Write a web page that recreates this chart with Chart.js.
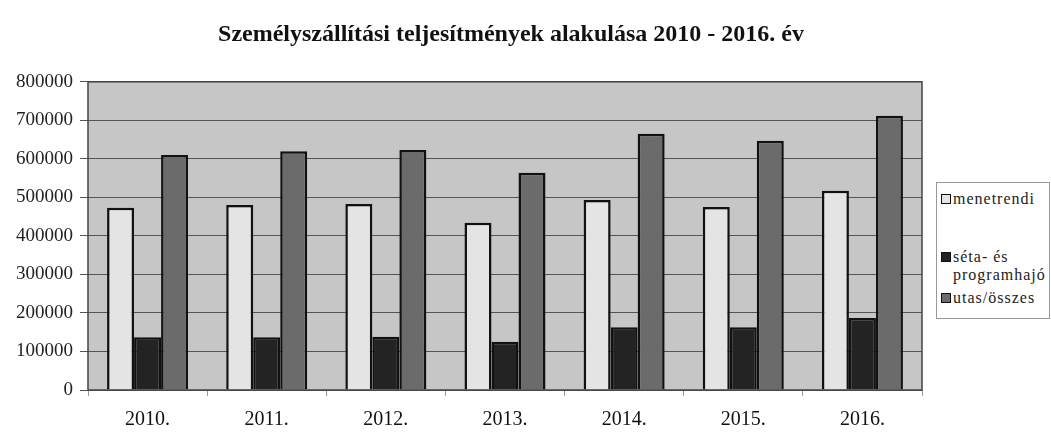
<!DOCTYPE html>
<html>
<head>
<meta charset="utf-8">
<script src="https://cdn.jsdelivr.net/npm/chart.js@4/dist/chart.umd.min.js"></script>
<style>
    body { margin: 0; background: #fff; }
    #wrap { position: relative; width: 1051px; height: 434px; }
    #legend {
        position: absolute; left: 936px; top: 182px; width: 114px; height: 137px;
        border: 1px solid #999; box-sizing: border-box; background: #fff;
        font-family: "Liberation Serif", "DejaVu Serif", serif; font-size: 16px; color: #222;
        letter-spacing: 1px;
    }
    .item { position: absolute; left: 4px; line-height: 18px; white-space: nowrap; }
    .box { display: inline-block; width: 8px; height: 8px; border: 1.5px solid #111; margin-right: 2px; vertical-align: 0px; }
</style>
</head>
<body>
<div id="wrap">
    <canvas id="chart" width="1051" height="434"></canvas>
    <div id="legend"></div>
</div>
<script>
// Személyszállítási teljesítmények 2010-2016
const years = ['2010.', '2011.', '2012.', '2013.', '2014.', '2015.', '2016.'];
const menetrendi = [473000, 480000, 483000, 434000, 493000, 475000, 517000];
const setaProgram = [137000, 137000, 138000, 125000, 163000, 163000, 187000];
const utasOsszes = [610000, 620000, 623000, 564000, 665000, 647000, 712000];
const seriesNames = ['menetrendi', 'séta- és\nprogramhajó', 'utas/összes'];
const seriesColors = ['#e4e4e4', '#232323', '#6b6b6b'];

const serif = '"Liberation Serif", "DejaVu Serif", serif';

// gray plot background with frame
const plotBackground = {
    id: 'plotBackground',
    beforeDraw(chart) {
        const { ctx, chartArea: a } = chart;
        ctx.save();
        ctx.fillStyle = '#c6c6c6';
        ctx.fillRect(a.left, a.top, a.right - a.left, a.bottom - a.top);
        ctx.restore();
    },
    afterDatasetsDraw(chart) {
        const { ctx, chartArea: a } = chart;
        ctx.save();
        ctx.strokeStyle = '#444';
        ctx.lineWidth = 1.5;
        ctx.strokeRect(a.left, a.top, a.right - a.left, a.bottom - a.top);
        ctx.restore();
    }
};

const datasets = [menetrendi, setaProgram, utasOsszes].map((d, i) => ({
    label: seriesNames[i],
    data: d,
    backgroundColor: seriesColors[i],
    borderColor: '#111',
    borderWidth: 2.5,
    barPercentage: 1,
    categoryPercentage: 0.68
}));

new Chart(document.getElementById('chart'), {
    type: 'bar',
    data: { labels: years, datasets: datasets },
    plugins: [plotBackground],
    options: {
        responsive: false,
        animation: false,
        layout: { padding: { left: 0, right: 29, top: 0, bottom: 0 } },
        plugins: {
            legend: { display: false },
            tooltip: { enabled: false },
            title: {
                display: true,
                text: 'Személyszállítási teljesítmények alakulása 2010 - 2016. év',
                color: '#111',
                font: { family: serif, size: 24, weight: 'bold' },
                padding: { top: 20, bottom: 33 }
            }
        },
        scales: {
            x: {
                grid: { drawOnChartArea: false, drawTicks: true, tickLength: 6, color: '#999' },
                border: { display: false },
                ticks: { color: '#111', font: { family: serif, size: 20 }, padding: 12 },
                afterFit(scale) { scale.height = 44; }
            },
            y: {
                min: 0,
                max: 800000,
                ticks: {
                    stepSize: 100000, color: '#222', font: { family: serif, size: 19 }, padding: 7,
                    callback: (v) => String(v)
                },
                grid: { color: '#555', lineWidth: 1, tickLength: 8 },
                border: { display: false },
                afterFit(scale) { scale.width = 88; }
            },
            // empty axis reserving the legend column
            side: {
                type: 'linear',
                position: 'right',
                grid: { display: false },
                ticks: { display: false },
                border: { display: false },
                afterFit(scale) { scale.width = 100; }
            }
        }
    }
});

// legend built from the series
const legendEl = document.getElementById('legend');
const tops = [7, 65, 106];
seriesNames.forEach((name, i) => {
    const item = document.createElement('div');
    item.className = 'item';
    item.style.top = tops[i] + 'px';
    const lines = name.split('\n');
    item.innerHTML = '<span class="box" style="background:' + seriesColors[i] + '"></span>' +
        lines.join('<br><span style="padding-left:12px"></span>');
    legendEl.appendChild(item);
});
</script>
</body>
</html>
